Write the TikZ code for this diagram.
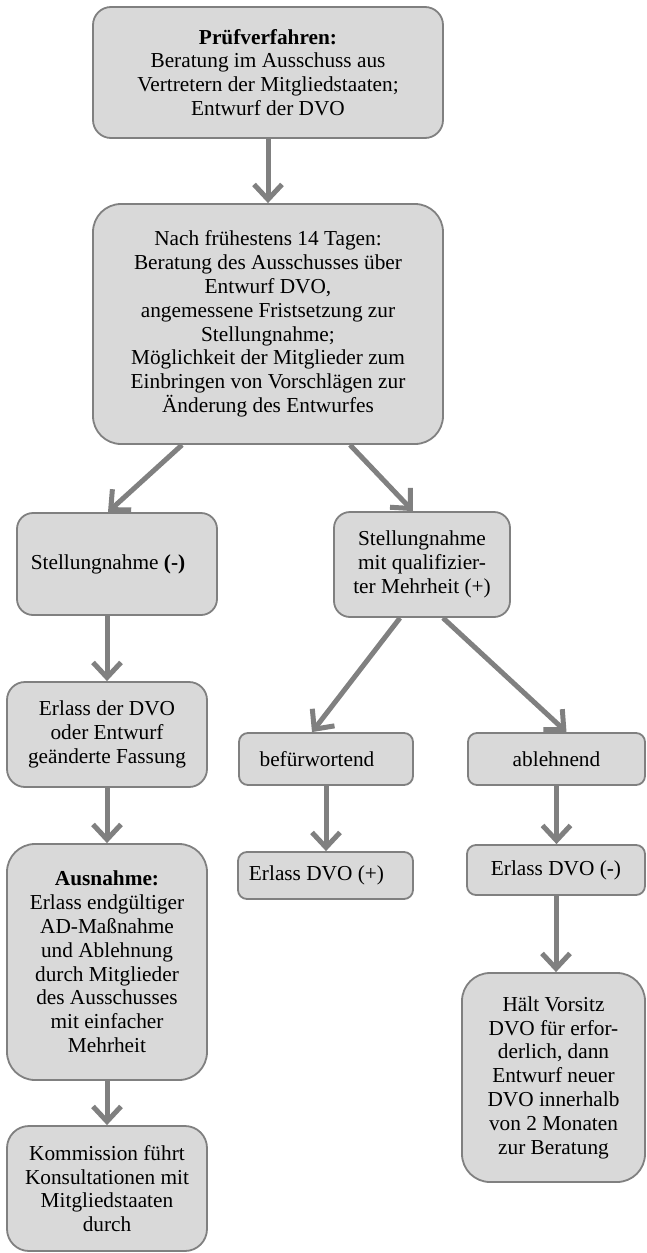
\documentclass[tikz,border=0pt]{standalone}
\usepackage{fontspec}
\setmainfont{Liberation Serif}
\usetikzlibrary{arrows.meta}
\definecolor{boxfill}{HTML}{D9D9D9}
\definecolor{boxline}{HTML}{808080}
\begin{document}
\begin{tikzpicture}[x=1pt,y=-1pt,
  box/.style={draw=boxline, line width=1.8pt, fill=boxfill, align=center,
    inner sep=0pt, font=\fontsize{21.3}{23.8}\selectfont},
  arr/.style={draw=boxline, line width=5pt,
    -{Straight Barb[length=15pt,width=28pt]}}]
\useasboundingbox (0,0) rectangle (646,1253);

\node[box, rounded corners=18pt, minimum width=350pt, minimum height=131pt] (b1) at (268,72.5)
  {\textbf{Prüfverfahren:}\\Beratung im Ausschuss aus\\Vertretern der Mitgliedstaaten;\\Entwurf der DVO};
\node[box, rounded corners=28pt, minimum width=350pt, minimum height=240pt] (b2) at (268,324)
  {Nach frühestens 14 Tagen:\\Beratung des Ausschusses über\\Entwurf DVO,\\angemessene Fristsetzung zur\\Stellungnahme;\\Möglichkeit der Mitglieder zum\\Einbringen von Vorschlägen zur\\Änderung des Entwurfes};
\node[box, rounded corners=16pt, minimum width=200pt, minimum height=102pt] (b3) at (117,564)
  {Stellungnahme \textbf{(-)}\hspace*{18pt}};
\node[box, rounded corners=16pt, minimum width=176pt, minimum height=105pt] (b4) at (422,564.5)
  {Stellungnahme\\mit qualifizier-\\ter Mehrheit (+)};
\node[box, rounded corners=18pt, minimum width=200pt, minimum height=105pt] (b5) at (107,734.5)
  {Erlass der DVO\\oder Entwurf\\geänderte Fassung};
\node[box, rounded corners=9pt, minimum width=174pt, minimum height=52pt] (b6) at (326,759)
  {befürwortend\hspace*{18pt}};
\node[box, rounded corners=9pt, minimum width=177pt, minimum height=52pt] (b8) at (556.5,759)
  {ablehnend};
\node[box, rounded corners=9pt, minimum width=175pt, minimum height=47pt] (b10) at (325.5,875.5)
  {Erlass DVO (+)\hspace*{18pt}};
\node[box, rounded corners=9pt, minimum width=178pt, minimum height=50pt] (b11) at (556,870)
  {Erlass DVO (-)};
\node[box, rounded corners=28pt, minimum width=200pt, minimum height=236pt] (b7) at (107,962)
  {\textbf{Ausnahme:}\\Erlass endgültiger\\AD-Maßnahme\\und Ablehnung\\durch Mitglieder\\des Ausschusses\\mit einfacher\\Mehrheit};
\node[box, rounded corners=22pt, minimum width=200pt, minimum height=125pt] (b9) at (107,1188.5)
  {Kommission führt\\Konsultationen mit\\Mitgliedstaaten\\durch};
\node[box, rounded corners=28pt, minimum width=183pt, minimum height=209pt] (b12) at (553.5,1077.5)
  {Hält Vorsitz\\DVO für erfor-\\derlich, dann\\Entwurf neuer\\DVO innerhalb\\von 2 Monaten\\zur Beratung};

\draw[arr] (b1.south) -- (b2.north);
\draw[arr] ([xshift=-86pt]b2.south) -- ([xshift=-9pt]b3.north);
\draw[arr] ([xshift=82pt]b2.south) -- ([xshift=-9pt]b4.north);
\draw[arr] (b5.north |- b3.south) -- (b5.north);
\draw[arr] (b5.south) -- (b7.north);
\draw[arr] (b7.south) -- (b9.north);
\draw[arr] ([xshift=-22pt]b4.south) -- ([xshift=-14pt]b6.north);
\draw[arr] ([xshift=21pt]b4.south) -- ([xshift=10pt]b8.north);
\draw[arr] (b6.south) -- (b6.south |- b10.north);
\draw[arr] (b8.south) -- (b8.south |- b11.north);
\draw[arr] (b11.south) -- (b11.south |- b12.north);
\end{tikzpicture}
\end{document}
